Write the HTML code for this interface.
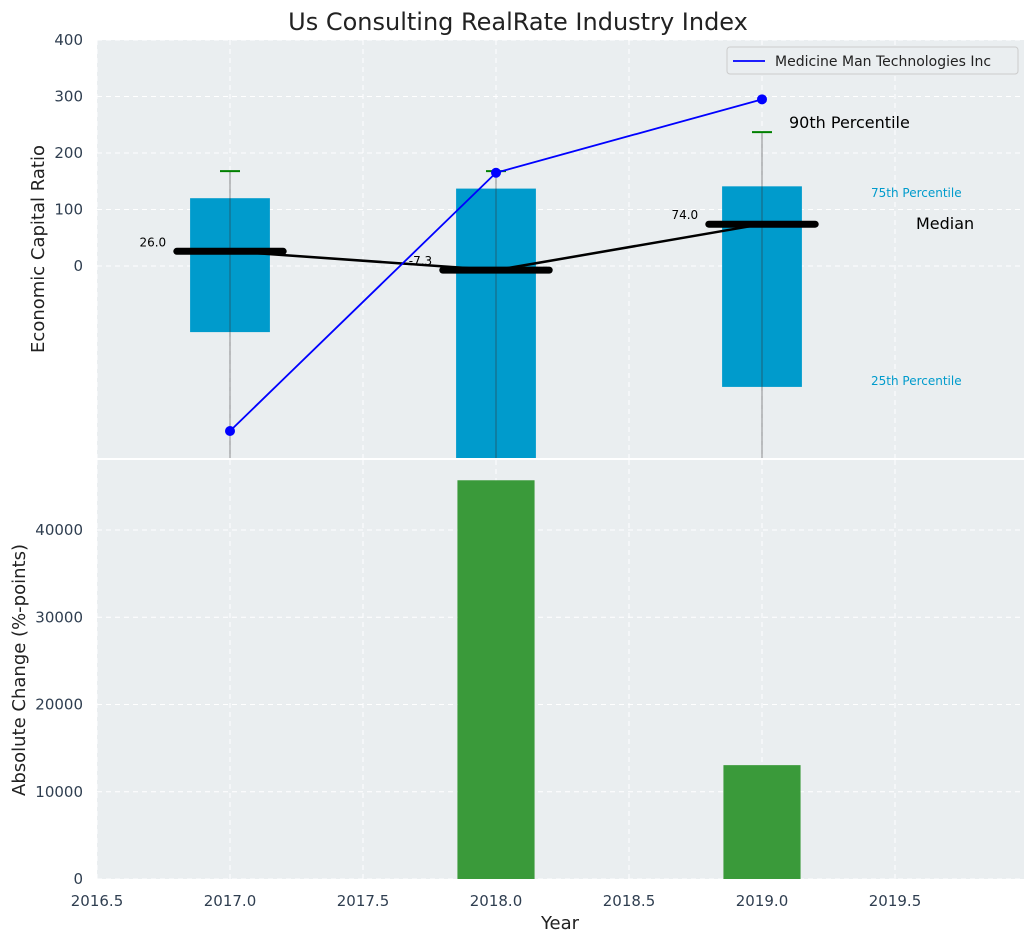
<!DOCTYPE html>
<html><head><meta charset="utf-8"><style>
body{margin:0;background:#fff;font-family:"Liberation Sans","DejaVu Sans",sans-serif}
svg text{font-family:"DejaVu Sans","Liberation Sans",sans-serif}
</style></head><body>
<svg id="c" width="1036" height="942"></svg>
<script>
const years=[2017,2018,2019];
const q75=[120,137,141];
const q25=[-117,-400,-214];
const p90=[168,168,237];
const medians=[26.0,-7.3,74.0];
const medianLabels=["26.0","-7.3","74.0"];
const company=[-292,165,295];
const absChange=[null,45700,13050];
const xTicks=[2016.5,2017.0,2017.5,2018.0,2018.5,2019.0,2019.5];
const yTicksTop=[0,100,200,300,400];
const yTicksBot=[0,10000,20000,30000,40000];

const svg=document.getElementById('c');const NS='http://www.w3.org/2000/svg';
function el(t,a,p){const e=document.createElementNS(NS,t);for(const k in a)e.setAttribute(k,a[k]);(p||svg).appendChild(e);return e;}
const L=97,R=1024;
const X=v=>L+(v-2016.5)*266;
const T0=40,T1=458,Yt=v=>266-v*0.565;
const B0=460,B1=879,Yb=v=>879-v*0.008725;

let r=el('rect',{x:L,y:T0,width:R-L,height:T1-T0,fill:'#eaeef0'});

r=el('rect',{x:L,y:B0,width:R-L,height:B1-B0,fill:'#eaeef0'});

xTicks.forEach(v=>{el('line',{x1:X(v),x2:X(v),y1:T0,y2:T1,stroke:'#fff','stroke-dasharray':'5,4','stroke-width':1});el('line',{x1:X(v),x2:X(v),y1:B0,y2:B1,stroke:'#fff','stroke-dasharray':'5,4','stroke-width':1});});
yTicksTop.forEach(v=>el('line',{x1:L,x2:R,y1:Yt(v),y2:Yt(v),stroke:'#fff','stroke-dasharray':'5,4'}));
yTicksBot.forEach(v=>el('line',{x1:L,x2:R,y1:Yb(v),y2:Yb(v),stroke:'#fff','stroke-dasharray':'5,4'}));

const defs=el('defs',{});const cp=el('clipPath',{id:'ct'},defs);el('rect',{x:L,y:T0,width:R-L,height:T1-T0},cp);
const topG=el('g',{'clip-path':'url(#ct)'});

years.forEach((y,i)=>{
 const b=el('rect',{x:X(y-0.15),y:Yt(q75[i]),width:0.3*266,height:Yt(q25[i])-Yt(q75[i]),fill:'#009bcc'},topG);
 
 el('line',{x1:X(y),x2:X(y),y1:Yt(p90[i]),y2:T1,stroke:'#333','stroke-opacity':0.55,'stroke-width':1},topG);
 el('line',{x1:X(y)-10,x2:X(y)+10,y1:Yt(p90[i]),y2:Yt(p90[i]),stroke:'green','stroke-width':2},topG);
});
let pts=years.map((y,i)=>X(y)+','+Yt(medians[i])).join(' ');
el('polyline',{points:pts,fill:'none',stroke:'#000','stroke-width':2.5},topG);
years.forEach((y,i)=>{
 const m=el('line',{x1:X(y-0.2),x2:X(y+0.2),y1:Yt(medians[i]),y2:Yt(medians[i]),stroke:'#000','stroke-width':7,'stroke-linecap':'round'},topG);
 
 const t=el('text',{x:X(y-0.24),y:Yt(medians[i])-5,'font-size':12,'text-anchor':'end',fill:'#000'},topG);t.textContent=medianLabels[i];
});
pts=years.map((y,i)=>X(y)+','+Yt(company[i])).join(' ');
let ln=el('polyline',{points:pts,fill:'none',stroke:'blue','stroke-width':1.8},topG);

years.forEach((y,i)=>el('circle',{cx:X(y),cy:Yt(company[i]),r:5,fill:'blue'},topG));

function txt(x,y,s,o){const t=el('text',Object.assign({x:x,y:y},o));t.textContent=s;return t;}
txt(789,128,'90th Percentile',{'font-size':16,fill:'#000'});
txt(871,197,'75th Percentile',{'font-size':12,fill:'#009bcc'});
txt(916,229,'Median',{'font-size':16,fill:'#000'});
txt(871,385,'25th Percentile',{'font-size':12,fill:'#009bcc'});

years.forEach((y,i)=>{if(absChange[i]==null)return;
 const b=el('rect',{x:X(y-0.145),y:Yb(absChange[i]),width:0.29*266,height:Yb(0)-Yb(absChange[i]),fill:'#3a9a3a'});
 });

yTicksTop.forEach(v=>txt(83,Yt(v)+5,String(v),{'font-size':15,'text-anchor':'end',fill:'#2f3e50'}));
yTicksBot.forEach(v=>txt(83,Yb(v)+5,String(v),{'font-size':15,'text-anchor':'end',fill:'#2f3e50'}));
xTicks.forEach(v=>txt(X(v),906,v.toFixed(1),{'font-size':15,'text-anchor':'middle',fill:'#2f3e50'}));
let t=txt(518,30,'Us Consulting RealRate Industry Index',{'font-size':24,'text-anchor':'middle',fill:'#222'});
t=txt(560,929,'Year',{'font-size':18,'text-anchor':'middle',fill:'#222'});
t=txt(0,0,'Economic Capital Ratio',{'font-size':18,'text-anchor':'middle',fill:'#222',transform:'translate(44,249) rotate(-90)'});
t=txt(0,0,'Absolute Change (%-points)',{'font-size':18,'text-anchor':'middle',fill:'#222',transform:'translate(25,670) rotate(-90)'});

const lg=el('g',{});
el('rect',{x:727,y:47,width:291,height:27,rx:3,fill:'#eaeef0',stroke:'#ccc'},lg);
el('line',{x1:733,x2:765,y1:61,y2:61,stroke:'blue','stroke-width':1.8},lg);
const lt=el('text',{x:775,y:66,'font-size':14,fill:'#222'},lg);lt.textContent='Medicine Man Technologies Inc';
</script>
</body></html>
